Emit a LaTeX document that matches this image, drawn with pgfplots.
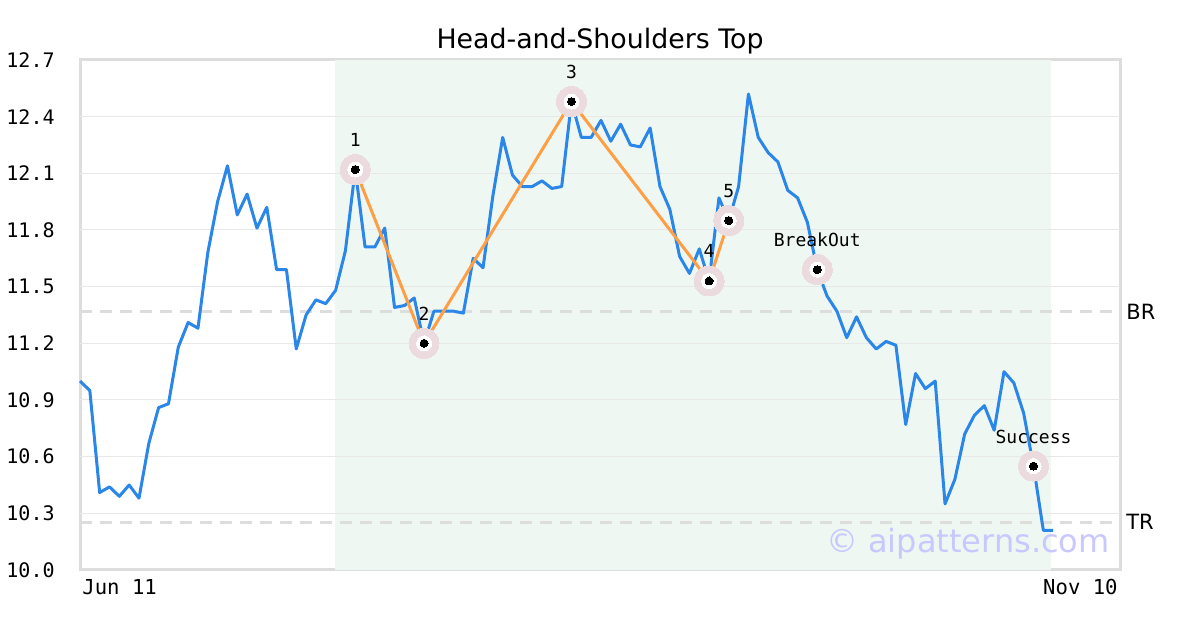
\documentclass[border=0pt]{standalone}
\usepackage{fontspec}
\setmainfont{DejaVu Sans}
\newfontfamily\mono{DejaVu Sans Mono}
\usepackage{pgfplots}
\usepackage{pgfplotstable}
\pgfplotsset{compat=1.18}

\definecolor{lineblue}{RGB}{42,134,232}
\definecolor{patorange}{RGB}{255,159,69}
\definecolor{shade}{RGB}{239,247,243}
\definecolor{halo}{RGB}{235,218,222}
\definecolor{framegray}{RGB}{221,221,221}
\definecolor{gridgray}{RGB}{232,232,232}
\definecolor{wmark}{RGB}{200,200,255}

% closing prices, one row per trading day
\pgfplotstableread{
x y
0 11.00
1 10.95
2 10.41
3 10.44
4 10.39
5 10.45
6 10.38
7 10.67
8 10.86
9 10.88
10 11.18
11 11.31
12 11.28
13 11.68
14 11.95
15 12.14
16 11.88
17 11.99
18 11.81
19 11.92
20 11.59
21 11.59
22 11.17
23 11.35
24 11.43
25 11.41
26 11.48
27 11.69
28 12.12
29 11.71
30 11.71
31 11.81
32 11.39
33 11.40
34 11.44
35 11.20
36 11.37
37 11.37
38 11.37
39 11.36
40 11.65
41 11.60
42 11.98
43 12.29
44 12.09
45 12.03
46 12.03
47 12.06
48 12.02
49 12.03
50 12.48
51 12.29
52 12.29
53 12.38
54 12.27
55 12.36
56 12.25
57 12.24
58 12.34
59 12.03
60 11.91
61 11.66
62 11.57
63 11.70
64 11.53
65 11.97
66 11.85
67 12.03
68 12.52
69 12.29
70 12.21
71 12.16
72 12.01
73 11.97
74 11.84
75 11.59
76 11.45
77 11.37
78 11.23
79 11.34
80 11.23
81 11.17
82 11.21
83 11.19
84 10.77
85 11.04
86 10.96
87 11.00
88 10.35
89 10.48
90 10.72
91 10.82
92 10.87
93 10.74
94 11.05
95 10.99
96 10.83
97 10.55
98 10.21
99 10.21
}\pricedata

% pattern points
\pgfplotstableread{
x y label
28 12.12 1
35 11.20 2
50 12.48 3
64 11.53 4
66 11.85 5
75 11.59 BreakOut
97 10.55 Success
}\patpts

\begin{document}
\begin{tikzpicture}
\path[use as bounding box] (0,0) rectangle (600pt,315pt);
\begin{axis}[
  at={(40pt,30pt)}, anchor=south west,
  scale only axis,
  width=520pt, height=255pt,
  clip=false,
  xmin=0, xmax=105.8,
  ymin=10.0, ymax=12.7,
  xtick=\empty,
  ytick={10.0,10.3,10.6,10.9,11.2,11.5,11.8,12.1,12.4,12.7},
  major tick length=0pt,
  axis line style={framegray, line width=1.5pt},
  yticklabel style={font=\mono\fontsize{10}{12}\selectfont, inner sep=0pt, anchor=east, xshift=-12.5pt,
    /pgf/number format/fixed, /pgf/number format/precision=1, /pgf/number format/fixed zerofill,
    /pgf/number format/assume math mode=true},
]
% shaded pattern window
\addplot[fill=shade, draw=none]
  coordinates {(25.94,10.0) (98.8,10.0) (98.8,12.7) (25.94,12.7)} -- cycle;

% horizontal grid, drawn over the shade
\pgfplotsinvokeforeach{10.3,10.6,10.9,11.2,11.5,11.8,12.1,12.4}{
  \addplot[gridgray, line width=0.5pt] coordinates {(0,#1) (105.8,#1)};
}

% break and target levels
\addplot[framegray, line width=1.5pt, dash pattern=on 6pt off 4pt]
  coordinates {(0,11.366) (105.8,11.366)};
\addplot[framegray, line width=1.5pt, dash pattern=on 6pt off 4pt]
  coordinates {(0,10.254) (105.8,10.254)};

\addplot[lineblue, line width=1.5pt, line join=round] table[x=x, y=y] \pricedata;

% pattern outline 1-2-3-4-5
\addplot[patorange, line width=1.5pt] coordinates {(28,12.12) (35,11.20) (50,12.48) (64,11.53) (66,11.85)};

\addplot[halo, only marks, mark=*, mark size=7.5pt, mark options={solid, line width=0pt}] table[x=x, y=y] \patpts;
\addplot[white, only marks, mark=*, mark size=3.75pt, mark options={solid, line width=0pt}] table[x=x, y=y] \patpts;
\addplot[black, only marks, mark=*, mark size=2pt, mark options={solid, line width=0pt},
  point meta=explicit symbolic,
  nodes near coords,
  nodes near coords style={font=\mono\fontsize{9}{11}\selectfont, anchor=base, yshift=11.5pt, inner sep=0pt}]
  table[x=x, y=y, meta=label] \patpts;

\node[anchor=base west, font=\fontsize{10.5}{12}\selectfont, inner sep=0pt, yshift=-3.8pt, xshift=3pt] at (axis cs:105.8,11.366) {BR};
\node[anchor=base west, font=\fontsize{10.5}{12}\selectfont, inner sep=0pt, yshift=-3.8pt, xshift=3pt] at (axis cs:105.8,10.254) {TR};

\node[anchor=base east, font=\fontsize{16}{18}\selectfont, text=wmark, inner sep=0pt, xshift=-5pt, yshift=8.5pt] at (rel axis cs:1,0) {© aipatterns.com};

\node[anchor=base west, font=\mono\fontsize{10.3}{12}\selectfont, inner sep=0pt, yshift=-12.5pt, xshift=1pt] at (rel axis cs:0,0) {Jun 11};
\node[anchor=base east, font=\mono\fontsize{10.3}{12}\selectfont, inner sep=0pt, yshift=-12.5pt, xshift=-1pt] at (rel axis cs:1,0) {Nov 10};

\node[anchor=base, font=\fontsize{13.4}{15}\selectfont, inner sep=0pt, yshift=5.5pt] at (rel axis cs:0.5,1) {Head-and-Shoulders Top};
\end{axis}
\end{tikzpicture}
\end{document}
